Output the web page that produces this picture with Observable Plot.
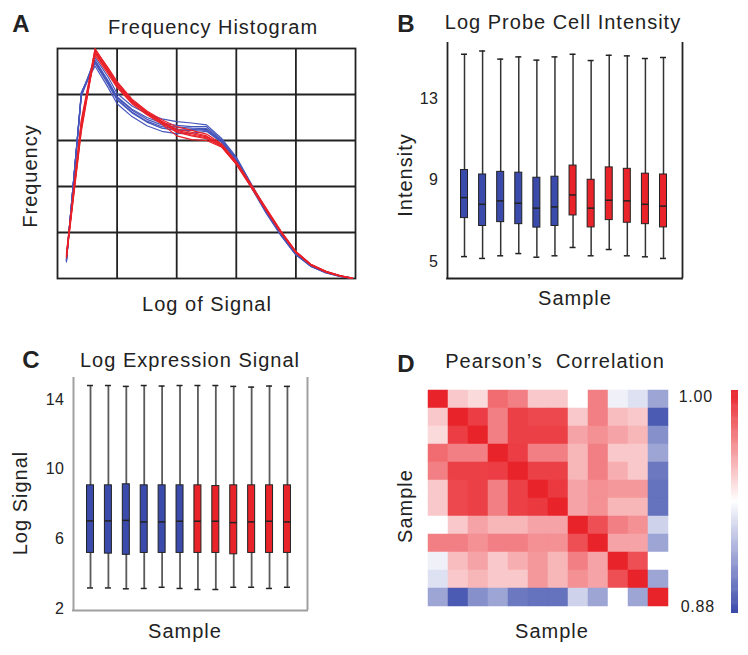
<!DOCTYPE html>
<html><head><meta charset="utf-8">
<script src="https://cdn.jsdelivr.net/npm/d3@7"></script>
<script src="https://cdn.jsdelivr.net/npm/@observablehq/plot@0.6"></script>
<style>
body{margin:0;background:#fff;}
#root{position:relative;width:748px;height:655px;overflow:hidden;font-family:"Liberation Sans",Arial,Helvetica,sans-serif;color:#222;background:#fff;}
.t{position:absolute;white-space:pre;line-height:1;}
.p{position:absolute;}
</style></head><body><div id="root"></div>
<script>
// ---------- Panel A: frequency histogram curves ----------
const histX = [0.15, 0.4, 0.63, 0.85, 1.0, 1.25, 1.5, 1.75, 2.0, 2.25, 2.5, 2.75, 3.0, 3.25, 3.5, 3.75, 4.0, 4.25, 4.5, 4.75, 4.95];
const histBlue = [
  [0.38, 4.02, 4.75, 4.30, 3.95, 3.68, 3.50, 3.38, 3.33, 3.30, 3.30, 3.02, 2.62, 2.05, 1.48, 0.98, 0.56, 0.29, 0.14, 0.05, 0.01],
  [0.40, 4.00, 4.70, 4.25, 3.90, 3.62, 3.42, 3.30, 3.25, 3.24, 3.22, 2.98, 2.58, 2.02, 1.46, 0.96, 0.55, 0.28, 0.13, 0.05, 0.01],
  [0.36, 4.05, 4.62, 4.15, 3.80, 3.52, 3.32, 3.20, 3.15, 3.16, 3.20, 2.96, 2.56, 2.00, 1.44, 0.95, 0.53, 0.27, 0.13, 0.04, 0.00],
  [0.42, 3.98, 4.80, 4.38, 4.02, 3.75, 3.58, 3.47, 3.41, 3.38, 3.34, 3.05, 2.64, 2.06, 1.50, 0.99, 0.57, 0.30, 0.15, 0.06, 0.01],
  [0.39, 4.03, 4.68, 4.22, 3.88, 3.60, 3.40, 3.27, 3.22, 3.22, 3.24, 3.00, 2.60, 2.03, 1.45, 0.94, 0.52, 0.26, 0.12, 0.04, 0.00],
  [0.41, 3.96, 4.72, 4.28, 3.93, 3.66, 3.46, 3.34, 3.29, 3.27, 3.26, 2.99, 2.55, 1.98, 1.42, 0.93, 0.51, 0.27, 0.13, 0.05, 0.01]
];
const histRed = [
  [0.50, 3.30, 5.00, 4.55, 4.25, 3.88, 3.62, 3.42, 3.25, 3.18, 3.10, 2.90, 2.52, 2.02, 1.52, 1.02, 0.58, 0.31, 0.15, 0.06, 0.00],
  [0.45, 3.20, 4.92, 4.50, 4.20, 3.84, 3.60, 3.40, 3.20, 3.12, 3.06, 2.88, 2.50, 2.00, 1.50, 1.00, 0.57, 0.30, 0.15, 0.05, 0.00],
  [0.55, 3.45, 4.98, 4.58, 4.28, 3.90, 3.64, 3.45, 3.30, 3.22, 3.14, 2.93, 2.54, 2.04, 1.53, 1.03, 0.59, 0.31, 0.16, 0.06, 0.01],
  [0.48, 3.35, 4.85, 4.44, 4.15, 3.80, 3.56, 3.36, 3.10, 3.02, 3.00, 2.86, 2.48, 1.98, 1.48, 0.99, 0.56, 0.29, 0.14, 0.05, 0.00],
  [0.52, 3.25, 4.95, 4.52, 4.22, 3.86, 3.58, 3.38, 3.18, 3.10, 3.04, 2.87, 2.49, 1.99, 1.49, 1.00, 0.57, 0.30, 0.15, 0.05, 0.00],
  [0.46, 3.40, 4.90, 4.48, 4.18, 3.82, 3.61, 3.41, 3.22, 3.15, 3.08, 2.91, 2.51, 2.01, 1.51, 1.01, 0.58, 0.30, 0.15, 0.06, 0.01]
];
const histDomain = [0, 5];
const histGridTicks = [1, 2, 3, 4];

// ---------- Shared samples ----------
const samples = [1, 2, 3, 4, 5, 6, 7, 8, 9, 10, 11, 12];
const sampleGroup = [1, 1, 1, 1, 1, 1, 2, 2, 2, 2, 2, 2];

// ---------- Panel B: log probe cell intensity ----------
const probeLow    = [5.24, 5.15, 5.28, 5.39, 5.21, 5.28, 5.69, 5.28, 5.59, 5.28, 5.23, 5.15];
const probeQ1     = [7.14, 6.75, 6.94, 6.84, 6.67, 6.75, 7.27, 6.68, 7.04, 6.91, 6.84, 6.68];
const probeMedian = [8.15, 7.82, 7.99, 7.87, 7.63, 7.69, 8.28, 7.63, 8.02, 7.99, 7.82, 7.73];
const probeQ3     = [9.51, 9.29, 9.42, 9.38, 9.13, 9.18, 9.73, 9.03, 9.64, 9.57, 9.33, 9.29];
const probeHigh   = [15.22, 15.38, 14.98, 15.09, 14.93, 15.09, 15.22, 14.91, 15.17, 15.14, 15.01, 15.06];
const probeTicks = [5, 9, 13];
const probeYDomain = [4.16, 15.8];
const probeXDomain = [0.06, 13.05];

// ---------- Panel C: log expression signal ----------
const exprLow    = [3.18, 3.18, 3.13, 3.15, 3.22, 3.15, 3.09, 3.09, 3.22, 3.22, 3.15, 3.22];
const exprQ1     = [5.19, 5.15, 5.08, 5.19, 5.19, 5.19, 5.19, 5.19, 5.11, 5.19, 5.19, 5.19];
const exprMedian = [7.03, 7.03, 7.06, 6.97, 6.97, 7.01, 7.01, 7.01, 6.93, 6.97, 7.01, 6.97];
const exprQ3     = [9.07, 9.07, 9.13, 9.07, 9.07, 9.07, 9.07, 9.03, 9.07, 9.07, 9.07, 9.07];
const exprHigh   = [14.80, 14.80, 14.75, 14.80, 14.77, 14.80, 14.80, 14.80, 14.75, 14.71, 14.77, 14.75];
const exprTicks = [2, 6, 10, 14];
const exprYDomain = [1.885, 15.26];
const exprXDomain = [0.05, 13.12];

// ---------- Panel D: Pearson's correlation ----------
const corr = [
  [1.000, 0.955, 0.950, 0.980, 0.975, 0.955, 0.955, 0.940, 0.975, 0.935, 0.930, 0.910],
  [0.955, 1.000, 0.993, 0.975, 0.992, 0.990, 0.990, 0.955, 0.975, 0.958, 0.955, 0.885],
  [0.950, 0.993, 1.000, 0.975, 0.992, 0.992, 0.992, 0.965, 0.970, 0.965, 0.960, 0.903],
  [0.980, 0.975, 0.975, 1.000, 0.993, 0.975, 0.975, 0.960, 0.975, 0.955, 0.955, 0.910],
  [0.975, 0.992, 0.992, 0.993, 1.000, 0.992, 0.992, 0.960, 0.975, 0.962, 0.955, 0.895],
  [0.955, 0.990, 0.992, 0.975, 0.992, 1.000, 0.994, 0.965, 0.970, 0.968, 0.968, 0.893],
  [0.955, 0.990, 0.992, 0.975, 0.992, 0.994, 1.000, 0.965, 0.970, 0.960, 0.960, 0.893],
  [0.940, 0.955, 0.965, 0.960, 0.960, 0.965, 0.965, 1.000, 0.988, 0.975, 0.970, 0.925],
  [0.975, 0.975, 0.970, 0.975, 0.975, 0.970, 0.970, 0.988, 1.000, 0.965, 0.965, 0.910],
  [0.935, 0.958, 0.965, 0.955, 0.962, 0.968, 0.960, 0.975, 0.965, 1.000, 0.988, 0.940],
  [0.930, 0.955, 0.960, 0.955, 0.955, 0.968, 0.960, 0.970, 0.965, 0.988, 1.000, 0.910],
  [0.910, 0.885, 0.903, 0.910, 0.895, 0.893, 0.893, 0.925, 0.910, 0.940, 0.910, 1.000]
];
const corrDomain = [0.88, 1.00];
const corrTickLabels = ["1.00", "0.88"];

// ---------- styles ----------
const BLUE = "#3b4bab", RED = "#e8232a", LINE_BLUE = "#4656bb", LINE_RED = "#e82028", INK = "#222";
const FONT = '"Liberation Sans", Arial, Helvetica, sans-serif';
const root = document.getElementById("root");

function place(svg, left, top) {
  svg.classList.add("p");
  svg.style.left = left + "px";
  svg.style.top = top + "px";
  root.appendChild(svg);
}
function label(str, x, y, o = {}) {
  const d = document.createElement("div");
  d.className = "t";
  d.textContent = str;
  d.style.left = x + "px";
  d.style.top = y + "px";
  d.style.fontSize = (o.size || 20) + "px";
  d.style.fontWeight = o.weight || 400;
  d.style.letterSpacing = (o.spacing == null ? 1 : o.spacing) + "px";
  const tx = o.anchor === "end" ? "-100%" : o.anchor === "start" ? "0%" : "-50%";
  d.style.transform = `translate(${tx},-50%)` + (o.rotate ? " rotate(-90deg)" : "");
  root.appendChild(d);
}

// ---------- Panel A ----------
const histData = [];
histBlue.forEach((ys, k) => ys.forEach((y, j) => histData.push({series: "b" + k, grp: 1, x: histX[j], y})));
histRed.forEach((ys, k) => ys.forEach((y, j) => histData.push({series: "r" + k, grp: 2, x: histX[j], y})));
const mA = 4;
const plotA = Plot.plot({
  width: 298 + 2 * mA, height: 230 + 2 * mA, margin: mA,
  x: {domain: histDomain, axis: null},
  y: {domain: histDomain, axis: null},
  style: {background: "transparent", overflow: "visible"},
  marks: [
    Plot.ruleX(histGridTicks, {stroke: INK, strokeWidth: 1.8}),
    Plot.ruleY(histGridTicks, {stroke: INK, strokeWidth: 1.8}),
    Plot.frame({stroke: INK, strokeWidth: 1.8}),
    Plot.line(histData.filter(d => d.grp === 1), {x: "x", y: "y", z: "series", stroke: LINE_BLUE, strokeWidth: 1.2}),
    Plot.line(histData.filter(d => d.grp === 2), {x: "x", y: "y", z: "series", stroke: LINE_RED, strokeWidth: 1.2})
  ]
});
place(plotA, 57 - mA, 48 - mA);

// ---------- Box plot builder ----------
function boxData(low, q1, med, q3, high) {
  return samples.map((s, i) => ({s, group: sampleGroup[i], low: low[i], q1: q1[i], med: med[i], q3: q3[i], high: high[i]}));
}
function boxPlot({data, xDomain, yDomain, ticks, w, h, frameStroke, frameWidth, whiskerStroke, whiskerWidth}) {
  const mL = 40, m = 3;
  return Plot.plot({
    width: w + mL + m, height: h + 2 * m,
    marginLeft: mL, marginRight: m, marginTop: m, marginBottom: m,
    x: {domain: xDomain, axis: null},
    y: {domain: yDomain, ticks, tickSize: 0, tickPadding: 9, label: null},
    color: {domain: [1, 2], range: [BLUE, RED]},
    style: {background: "transparent", overflow: "visible", fontFamily: FONT, fontSize: "16px", color: INK, letterSpacing: "0.5px"},
    marks: [
      Plot.ruleX(xDomain, {y1: yDomain[0], y2: yDomain[1], stroke: frameStroke, strokeWidth: frameWidth}),
      Plot.ruleY([yDomain[0]], {stroke: frameStroke, strokeWidth: frameWidth, insetLeft: -frameWidth / 2, insetRight: -frameWidth / 2}),
      Plot.ruleX(data, {x: "s", y1: "low", y2: "high", stroke: whiskerStroke, strokeWidth: whiskerWidth}),
      Plot.ruleY(data, {y: "low", x1: "s", x2: "s", insetLeft: -3, insetRight: -3, stroke: INK, strokeWidth: 1.5}),
      Plot.ruleY(data, {y: "high", x1: "s", x2: "s", insetLeft: -3, insetRight: -3, stroke: INK, strokeWidth: 1.5}),
      Plot.rect(data, {x1: "s", x2: "s", y1: "q1", y2: "q3", insetLeft: -3.5, insetRight: -3.5, fill: "group", stroke: INK, strokeWidth: 1}),
      Plot.ruleY(data, {y: "med", x1: "s", x2: "s", insetLeft: -3.5, insetRight: -3.5, stroke: INK, strokeWidth: 1.5})
    ]
  });
}

// ---------- Panel B ----------
const plotB = boxPlot({
  data: boxData(probeLow, probeQ1, probeMedian, probeQ3, probeHigh),
  xDomain: probeXDomain, yDomain: probeYDomain, ticks: probeTicks,
  w: 235, h: 236, frameStroke: INK, frameWidth: 1.8, whiskerStroke: "#333", whiskerWidth: 1.5
});
place(plotB, 447 - 40, 42 - 3);

// ---------- Panel C ----------
const plotC = boxPlot({
  data: boxData(exprLow, exprQ1, exprMedian, exprQ3, exprHigh),
  xDomain: exprXDomain, yDomain: exprYDomain, ticks: exprTicks,
  w: 234, h: 233, frameStroke: "#a0a0a0", frameWidth: 2, whiskerStroke: "#5a5a5a", whiskerWidth: 1.8
});
place(plotC, 73 - 40, 377 - 3);

// ---------- Panel D ----------
const corrColor = {type: "linear", domain: corrDomain, interpolate: d3.piecewise(d3.interpolateRgb, [BLUE, "#ffffff", RED])};
const cells = corr.flatMap((row, r) => row.map((v, c) => ({row: samples[r], col: samples[c], v})));
const plotD = Plot.plot({
  width: 243, height: 224, margin: 0,
  x: {type: "band", domain: samples, padding: 0, axis: null},
  y: {type: "band", domain: samples, padding: 0, axis: null},
  color: corrColor,
  style: {background: "transparent", overflow: "visible"},
  marks: [
    Plot.cell(cells, {x: "col", y: "row", fill: "v", stroke: "v", strokeWidth: 0.5, inset: 0})
  ]
});
place(plotD, 426, 386);

const rampStep = 0.0005;
const ramp = d3.range(corrDomain[0], corrDomain[1], rampStep);
const plotBar = Plot.plot({
  width: 7, height: 223, margin: 0,
  y: {domain: corrDomain, axis: null},
  color: corrColor,
  style: {background: "transparent"},
  marks: [
    Plot.rect(ramp, {y1: d => d, y2: d => Math.min(corrDomain[1], d + rampStep * 1.6), fill: d => d})
  ]
});
place(plotBar, 731, 390);

// ---------- Text ----------
label("A", 21, 24, {size: 24, weight: 700, spacing: 0});
label("B", 406, 24, {size: 24, weight: 700, spacing: 0});
label("C", 31, 360, {size: 24, weight: 700, spacing: 0});
label("D", 406, 364, {size: 24, weight: 700, spacing: 0});
label("Frequency Histogram", 213, 27);
label("Log Probe Cell Intensity", 563, 22);
label("Log Expression Signal", 190, 360);
label("Pearson\u2019s  Correlation", 555, 361);
label("Frequency", 30, 176, {rotate: true});
label("Log of Signal", 207, 304);
label("Intensity", 405, 175, {rotate: true});
label("Sample", 575, 298);
label("Log Signal", 20, 503, {rotate: true});
label("Sample", 185, 631);
label("Sample", 405, 506, {rotate: true});
label("Sample", 552, 631);
label(corrTickLabels[0], 713, 397, {size: 16, anchor: "end", spacing: 0.8});
label(corrTickLabels[1], 715, 607, {size: 16, anchor: "end", spacing: 0.8});
</script></body></html>
